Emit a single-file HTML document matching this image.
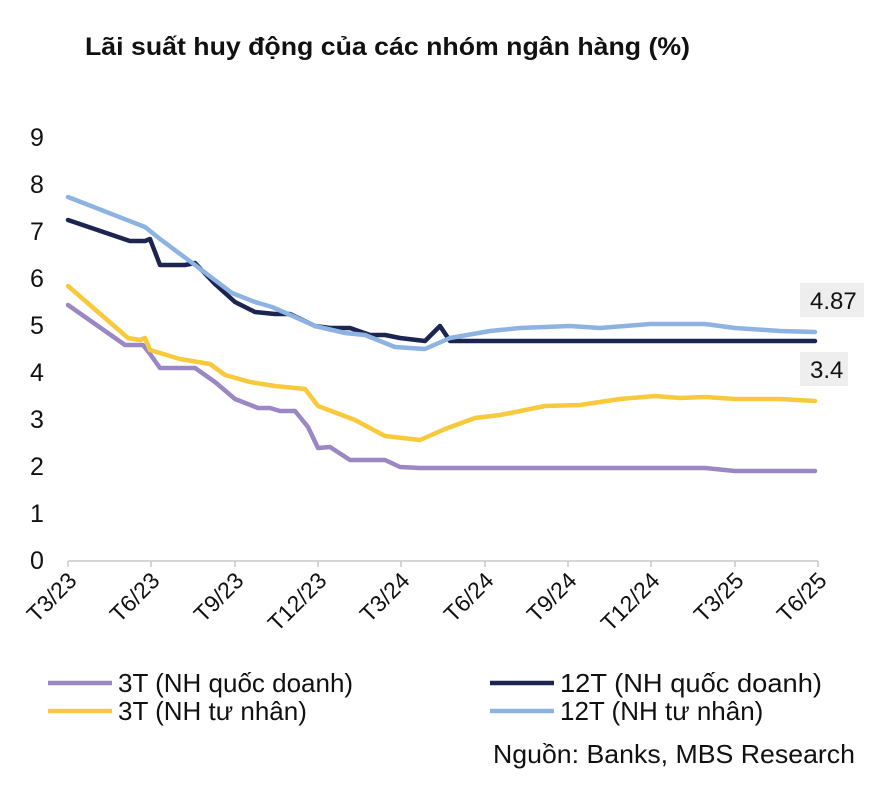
<!DOCTYPE html>
<html><head><meta charset="utf-8"><style>
body{margin:0;background:#fff;}
svg text{font-family:"Liberation Sans",sans-serif;}
</style></head><body>
<svg width="883" height="785" xmlns="http://www.w3.org/2000/svg">
<rect width="883" height="785" fill="#fff"/>
<text x="85" y="55" font-size="25" font-weight="bold" fill="#111" textLength="605" lengthAdjust="spacingAndGlyphs">Lãi suất huy động của các nhóm ngân hàng (%)</text>
<g font-size="25" fill="#111" text-anchor="start">
<text x="30" y="569">0</text><text x="30" y="522">1</text><text x="30" y="475">2</text><text x="30" y="428">3</text><text x="30" y="381">4</text><text x="30" y="334">5</text><text x="30" y="287">6</text><text x="30" y="240">7</text><text x="30" y="193">8</text><text x="30" y="146">9</text>
</g>
<g stroke="#c8c8c8" stroke-width="1.5" fill="none">
<path d="M68 561H818"/>
<path d="M68 561v6M151 561v6M235 561v6M318 561v6M401 561v6M485 561v6M568 561v6M651 561v6M735 561v6M818 561v6"/>
</g>
<g font-size="23" fill="#111" text-anchor="end">
<text transform="translate(78,582) rotate(-45)">T3/23</text>
<text transform="translate(161,582) rotate(-45)">T6/23</text>
<text transform="translate(245,582) rotate(-45)">T9/23</text>
<text transform="translate(328,582) rotate(-45)">T12/23</text>
<text transform="translate(411,582) rotate(-45)">T3/24</text>
<text transform="translate(495,582) rotate(-45)">T6/24</text>
<text transform="translate(578,582) rotate(-45)">T9/24</text>
<text transform="translate(661,582) rotate(-45)">T12/24</text>
<text transform="translate(745,582) rotate(-45)">T3/25</text>
<text transform="translate(828,582) rotate(-45)">T6/25</text>
</g>
<g fill="none" stroke-width="4.5" stroke-linejoin="round" stroke-linecap="round">
<polyline stroke="#9b87c4" points="68,305 125,345 143,345 150,354 160,368 195,368 215,382 235,399 258,408 270,408 280,411 295,411 308,427 318,448 330,447 350,460 385,460 400,467 420,468 705,468 735,471 815,471"/>
<polyline stroke="#f8c93a" points="68,286 128,338 140,340 145,338 150,350 180,359 210,364 225,375 250,382 275,386 305,389 318,406 355,420 385,436 420,440 445,429 475,418 500,415 545,406 580,405 620,399 655,396 680,398 705,397 735,399 780,399 815,401"/>
<polyline stroke="#1b2550" points="68,220 130,241 145,241 150,239 160,265 185,265 195,263 215,284 235,302 255,312 275,314 290,314 315,326 330,328 350,328 370,335 385,335 400,338 425,341 440,326 450,341 815,341"/>
<polyline stroke="#8db3e2" points="68,197 145,227 160,239 195,265 232,293 255,302 272,307 295,317 315,326 345,333 365,335 395,347 425,349 450,338 490,331 520,328 570,326 600,328 650,324 705,324 735,328 780,331 815,332"/>
</g>
<rect x="800" y="283" width="64" height="34" fill="#eeeeee"/>
<text x="810" y="309" font-size="24" fill="#111">4.87</text>
<rect x="800" y="352" width="48" height="34" fill="#eeeeee"/>
<text x="810" y="378" font-size="24" fill="#111">3.4</text>
<g stroke-width="4.5">
<line x1="48" y1="683" x2="112" y2="683" stroke="#9b87c4"/>
<line x1="48" y1="711" x2="112" y2="711" stroke="#f8c93a"/>
<line x1="490" y1="683" x2="554" y2="683" stroke="#1b2550"/>
<line x1="490" y1="711" x2="554" y2="711" stroke="#8db3e2"/>
</g>
<g font-size="26" fill="#111">
<text x="118" y="692">3T (NH quốc doanh)</text>
<text x="118" y="720">3T (NH tư nhân)</text>
<text x="560" y="692" textLength="262" lengthAdjust="spacingAndGlyphs">12T (NH quốc doanh)</text>
<text x="560" y="720">12T (NH tư nhân)</text>
<text x="855" y="763" text-anchor="end" textLength="362" lengthAdjust="spacingAndGlyphs">Nguồn: Banks, MBS Research</text>
</g>
</svg>
</body></html>
